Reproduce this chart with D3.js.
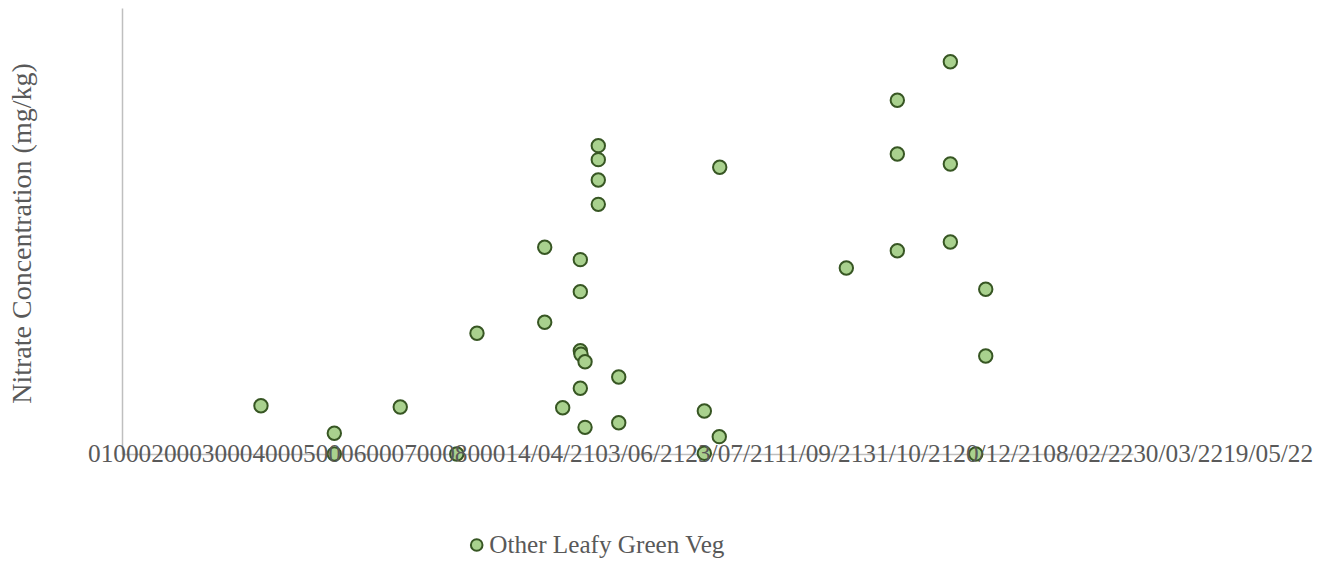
<!DOCTYPE html>
<html>
<head>
<meta charset="utf-8">
<script src="https://cdn.jsdelivr.net/npm/d3@7"></script>
<style>
  body { margin: 0; background: #fff; }
  text { font-family: "Liberation Serif", "Times New Roman", serif; fill: #595959; }
</style>
</head>
<body>
<div id="chart"></div>
<script>
// x values (sample position) and nitrate (mg/kg)
const xValues = [1237, 1890, 1890, 2477, 2980, 3160, 3763, 3763, 3923, 4080,
                 4080, 4080, 4086, 4122, 4080, 4122, 4240, 4240, 4240, 4240,
                 4422, 4422, 5184, 5184, 5321, 5317, 6448, 6902, 6902, 6902,
                 7374, 7374, 7374, 7600, 7689, 7689];
const nitrate = [487, 209, 0, 474, 0, 1218, 2086, 1329, 467, 1961,
                 1638, 1042, 1006, 931, 663, 269, 3111, 2970, 2765, 2519,
                 777, 316, 434, 7, 2893, 175, 1877, 3569, 3027, 2051,
                 3958, 2926, 2139, 0, 1662, 989];
const tickLabels = ["0", "1000", "2000", "3000", "4000", "5000", "6000", "7000", "8000",
                    "14/04/21", "03/06/21", "23/07/21", "11/09/21", "31/10/21",
                    "20/12/21", "08/02/22", "30/03/22", "19/05/22"];
const seriesName = "Other Leafy Green Veg";

const width = 1329, height = 562;
const margin = { top: 8, left: 122, right: 196, bottom: 108 };

const svg = d3.select("#chart")
  .append("svg")
    .attr("width", width)
    .attr("height", height);

const xScale = d3.scaleLinear()
  .domain([0, 9000])
  .range([margin.left, width - margin.right]);
const yScale = d3.scaleLinear()
  .domain([0, 4500])
  .range([height - margin.bottom, margin.top]);

// Axis lines only, no ticks
const axisColor = "#bfbfbf";
svg.append("g")
    .attr("transform", "translate(0," + yScale(0) + ")")
    .call(d3.axisBottom(xScale).tickValues([]).tickSizeOuter(0))
    .call(g => g.select(".domain").attr("stroke", axisColor).attr("stroke-width", 1.5));
svg.append("g")
    .attr("transform", "translate(" + margin.left + ",0)")
    .call(d3.axisLeft(yScale).tickValues([]).tickSizeOuter(0))
    .call(g => g.select(".domain").attr("stroke", axisColor).attr("stroke-width", 1.5));

// Points
const points = xValues.map((x, i) => ({ x: x, y: nitrate[i] }));
svg.append("g")
  .selectAll("circle")
  .data(points)
  .enter()
  .append("circle")
    .attr("cx", d => xScale(d.x))
    .attr("cy", d => yScale(d.y))
    .attr("r", 6.7)
    .attr("fill", "#a9d18e")
    .attr("stroke", "#375623")
    .attr("stroke-width", 2);

// Crowded tick labels, run together as one line
const ticks = svg.append("text")
    .attr("x", 88)
    .attr("y", yScale(0) + 8)
    .style("font-size", "25.3px");
ticks.selectAll("tspan")
  .data(tickLabels)
  .enter()
  .append("tspan")
    .text(d => d);

// Y axis title
svg.append("text")
    .attr("transform", "translate(31," + 233.5 + ") rotate(-90)")
    .attr("text-anchor", "middle")
    .style("font-size", "28px")
    .text("Nitrate Concentration (mg/kg)");

// Legend
const legend = svg.append("g").attr("transform", "translate(476.7,545)");
legend.append("circle")
    .attr("r", 5.8)
    .attr("fill", "#a9d18e")
    .attr("stroke", "#375623")
    .attr("stroke-width", 2);
legend.append("text")
    .attr("x", 12.5)
    .attr("y", 7.5)
    .style("font-size", "25.2px")
    .text(seriesName);
</script>
</body>
</html>
